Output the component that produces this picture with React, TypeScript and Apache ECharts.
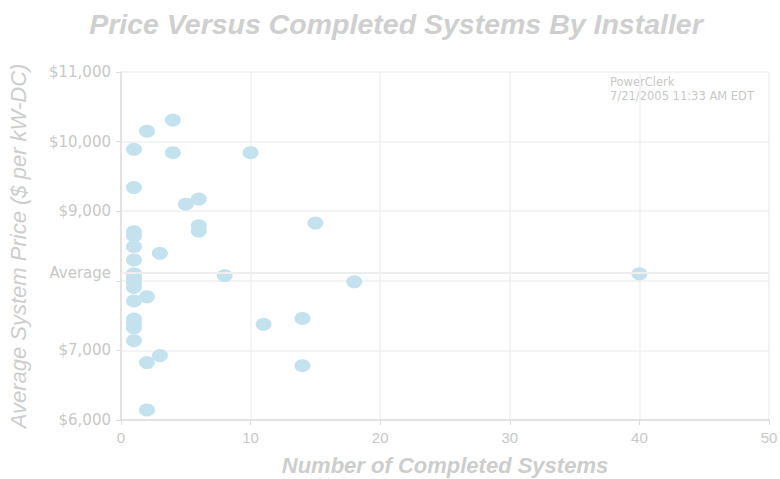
import React, { useEffect, useRef } from "react";
import * as echarts from "echarts";

const systemsCompleted = [4, 2, 1, 4, 10, 1, 5, 6, 15, 6, 6, 1, 1, 1, 3, 1, 1, 1, 1, 1, 8, 18, 2, 1, 1, 1, 1, 11, 14, 1, 3, 2, 14, 2, 40];
const avgPrice = [10310, 10150, 9890, 9840, 9840, 9340, 9100, 9175, 8830, 8790, 8715, 8705, 8645, 8490, 8395, 8300, 8100, 8035, 7975, 7905, 8075, 7985, 7770, 7710, 7450, 7390, 7325, 7375, 7460, 7140, 6925, 6825, 6780, 6145, 8100];
const averagePrice = 8115;
const xTicks = [0, 10, 20, 30, 40, 50];
const yTickLabels = ["$6,000", "$7,000", "", "$9,000", "$10,000", "$11,000"];
const annotation = ["PowerClerk", "7/21/2005 11:33 AM EDT"];

export default function App() {
  const ref = useRef<HTMLDivElement>(null);
  useEffect(() => {
    if (!ref.current) return;
    const chart = echarts.init(ref.current, undefined, { renderer: "svg" });
    const textColor = "#c8c8c8";
    const font = "Liberation Sans, Arial, sans-serif";
    const wideFont = "DejaVu Sans, sans-serif";
    const points = systemsCompleted.map((x, i) => [x, avgPrice[i]]);
    chart.setOption({
      animation: false,
      backgroundColor: "#ffffff",
      textStyle: { fontFamily: font },
      title: {
        text: "Price Versus Completed Systems By Installer",
        left: 391,
        textAlign: "center",
        top: 4,
        textStyle: { color: "#cfcfcf", fontSize: 28.5, fontWeight: "bold", fontStyle: "italic", fontFamily: font },
      },
      grid: { left: 121, right: 11, top: 72, bottom: 59, outerBoundsMode: "none", containLabel: false },
      xAxis: {
        type: "value",
        min: xTicks[0],
        max: xTicks[xTicks.length - 1],
        interval: 10,
        name: "Number of Completed Systems",
        nameLocation: "middle",
        nameGap: 34,
        nameTextStyle: { color: "#cdcdcd", fontSize: 22, fontWeight: "bold", fontStyle: "italic", fontFamily: font },
        axisLine: { show: true, lineStyle: { color: "#dcdcdc", width: 1.5 } },
        axisTick: { show: true, length: 5, lineStyle: { color: "#dcdcdc" } },
        axisLabel: { color: textColor, fontSize: 15, margin: 10, fontFamily: "Liberation Sans Narrow, Liberation Sans, sans-serif" },
        splitLine: { show: true, lineStyle: { color: "#f1f1f1", width: 1.5 } },
      },
      yAxis: {
        type: "value",
        min: 6000,
        max: 11000,
        interval: 1000,
        name: "Average System Price ($ per kW-DC)",
        nameLocation: "middle",
        nameGap: 92,
        nameTextStyle: { color: "#cdcdcd", fontSize: 22, fontStyle: "italic", fontFamily: font },
        axisLine: { show: true, lineStyle: { color: "#dcdcdc", width: 1.5 } },
        axisTick: { show: true, length: 5, lineStyle: { color: "#dcdcdc" } },
        axisLabel: {
          color: textColor,
          fontSize: 15,
          margin: 10,
          fontFamily: wideFont,
          formatter: (v: number) => yTickLabels[Math.round((v - 6000) / 1000)] ?? "",
        },
        splitLine: { show: true, lineStyle: { color: "#f1f1f1", width: 1.5 } },
      },
      graphic: [
        {
          type: "text",
          right: 26,
          top: 75,
          style: {
            text: annotation.join("\n"),
            fill: textColor,
            font: `11.5px ${wideFont}`,
            align: "right",
            lineHeight: 14,
          },
        },
      ],
      series: [
        {
          type: "scatter",
          data: points,
          symbol: "circle",
          symbolSize: [16, 13],
          itemStyle: { color: "#c4e2ed", opacity: 1 },
          markLine: {
            silent: true,
            symbol: "none",
            data: [{ yAxis: averagePrice }],
            lineStyle: { color: "#eeeeee", type: "solid", width: 2 },
            label: {
              show: true,
              position: "start",
              formatter: "Average",
              color: textColor,
              fontSize: 15,
              fontFamily: wideFont,
              distance: 10,
            },
          },
          z: 3,
        },
      ],
    });
    return () => chart.dispose();
  }, []);
  return <div ref={ref} style={{ width: 780, height: 479, position: "absolute", left: 0, top: 0 }} />;
}
